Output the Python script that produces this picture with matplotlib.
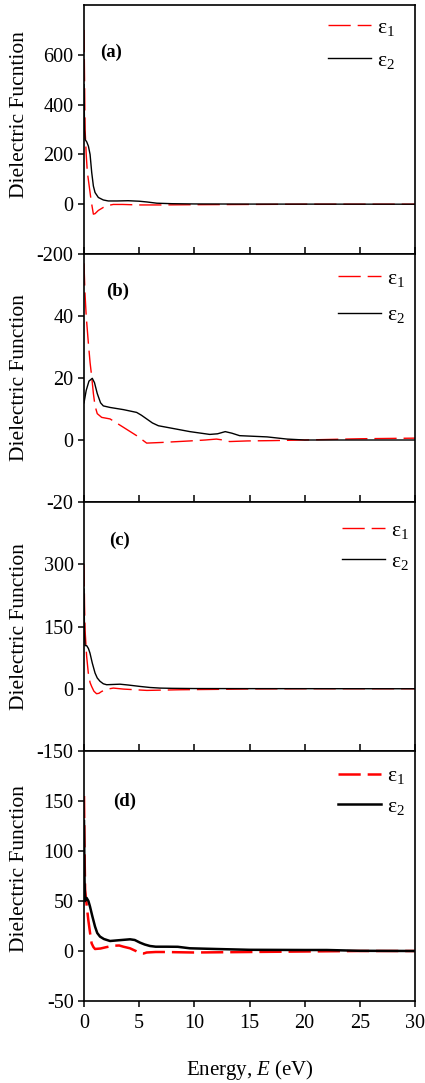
import matplotlib
matplotlib.use("Agg")
import matplotlib.pyplot as plt

plt.rcParams['font.family'] = ['Liberation Serif', 'DejaVu Serif']
plt.rcParams['mathtext.fontset'] = 'custom'
plt.rcParams['mathtext.rm'] = 'Liberation Serif'
plt.rcParams['mathtext.it'] = 'Liberation Serif:italic'
plt.rcParams['mathtext.bf'] = 'Liberation Serif:bold'
plt.rcParams['axes.unicode_minus'] = False

# ---------------- data ----------------
# panel (a)
Ea_e1 = [0, 0.05, 0.1, 0.2, 0.3, 0.45, 0.6, 0.7, 0.85, 1.0, 1.3, 1.75, 2.2, 2.65, 3.5, 5, 7, 10, 15, 20, 30]
a_e1 = [700, 500, 300, 200, 130, 80, 30, 0, -40, -38, -25, -13, -5, -1, -1, -3, -3, -2, -1, 0, 0]
Ea_e2 = [0, 0.05, 0.1, 0.25, 0.4, 0.55, 0.7, 0.85, 1.0, 1.3, 1.75, 2.2, 3, 4, 5, 5.7, 6.6, 8, 10, 15, 30]
a_e2 = [480, 300, 260, 250, 233, 200, 127, 73, 47, 27, 17, 13, 13, 14, 12, 9, 4, 2, 1, 0.5, 0]

# panel (b)
Eb_e1 = [0, 0.08, 0.2, 0.39, 0.55, 0.69, 0.85, 1.0, 1.2, 1.6, 2.36, 3.57, 4.77, 5.68, 7, 9.6, 11,
         12, 12.6, 13.2, 14.8, 17, 20, 25, 30]
b_e1 = [57, 48, 40, 31.5, 25, 20.7, 15, 11, 8.5, 7.3, 6.8, 4.1, 1.4, -1.0, -0.8, -0.3, 0,
        0.3, 0, -0.5, -0.3, -0.2, 0, 0.4, 0.6]
Eb_e2 = [0, 0.2, 0.45, 0.75, 0.95, 1.2, 1.5, 1.75, 2.36, 3.57, 4.77, 5.2, 5.68, 6.2, 6.74, 7.8, 9.6,
         11.4, 12.1, 12.8, 13.4, 14.1, 16.6, 18.4, 20, 25, 30]
b_e2 = [12, 16, 19, 19.9, 18.5, 15, 12, 11, 10.5, 9.8, 8.9, 8, 6.8, 5.5, 4.6, 3.9, 2.7,
        1.8, 2.0, 2.7, 2.2, 1.4, 1.0, 0.3, 0, 0, 0]

# panel (c)
Ec_e1 = [0, 0.05, 0.1, 0.24, 0.39, 0.55, 0.69, 0.9, 1.14, 1.35, 1.6, 2.1, 2.66, 3.57, 5.7, 8.7, 12, 15, 20, 30]
c_e1 = [300, 200, 140, 78, 38, 15, 5.6, -6, -12, -11, -6.5, -1, 1.6, -0.8, -4, -2.4, -1.5, -0.5, 0, 0]
Ec_e2 = [0, 0.05, 0.1, 0.24, 0.4, 0.54, 0.75, 1.0, 1.2, 1.45, 1.75, 2.05, 3.26, 4, 5.07, 6, 6.9, 8, 10, 15, 30]
c_e2 = [240, 130, 104, 104, 97, 86, 62, 38, 26, 18, 12, 9.7, 11, 9, 5.6, 3, 1.6, 1, 0.5, 0.3, 0]

# panel (d)
Ed_e1 = [0, 0.05, 0.1, 0.25, 0.39, 0.55, 0.69, 0.85, 1.0, 1.5, 2.0, 2.66, 3.2, 3.57, 4.17, 4.7, 5.07,
         5.4, 5.68, 6.5, 7.2, 10, 15, 20, 25, 30]
d_e1 = [155, 100, 61, 45, 31, 18, 7.7, 4, 2, 2.5, 3.8, 5.3, 5.5, 4.3, 2.7, 0, -2.3,
        -2.5, -1.5, -1, -1, -1.5, -1, -0.5, 0, 0]
Ed_e2 = [0, 0.05, 0.1, 0.24, 0.4, 0.54, 0.75, 1.0, 1.2, 1.45, 1.8, 2.36, 3.2, 4.17, 4.6, 5.07, 5.5,
         5.98, 6.5, 7.5, 8.5, 9.6, 12, 15, 20, 22, 25, 30]
d_e2 = [130, 70, 50, 53, 50, 44.6, 35, 24.4, 18, 14.4, 12, 10, 10.8, 11.7, 11, 8.4, 6.5,
        5, 4.3, 4.3, 4.2, 2.7, 2, 1.2, 1, 1, 0.2, 0]

panel_labels = ['(a)', '(b)', '(c)', '(d)']
ylabels = ['Dielectric Fucntion', 'Dielectric Function', 'Dielectric Function', 'Dielectric Function']
yticks = [[-200, 0, 200, 400, 600], [-20, 0, 20, 40], [-150, 0, 150, 300], [-50, 0, 50, 100, 150]]
ylims = [(-200, 800), (-20, 60), (-150, 450), (-50, 200)]
xticks = [0, 5, 10, 15, 20, 25, 30]
legend_labels = ['ε$_1$', 'ε$_2$']

series = [(Ea_e1, a_e1, Ea_e2, a_e2), (Eb_e1, b_e1, Eb_e2, b_e2),
          (Ec_e1, c_e1, Ec_e2, c_e2), (Ed_e1, d_e1, Ed_e2, d_e2)]

# ---------------- layout ----------------
W, H = 425, 1083
fig = plt.figure(figsize=(W / 100, H / 100), dpi=100)
edges = [5, 254, 502, 751, 1001]
left_px, right_px = 84, 415
label_pos = [(0.05, 0.81), (0.066, 0.85), (0.076, 0.847), (0.088, 0.80)]
leg_pos = [(0.737, 0.95), (0.767, 0.94), (0.779, 0.925), (0.767, 0.94)]
leg_space = [0.6, 0.75, 0.5, 0.5]
ylab_y = [0.558, 0.5, 0.5, 0.528]
lws = [1.0, 1.0, 1.0, 1.8]

for i in range(4):
    top, bot = edges[i], edges[i + 1]
    ax = fig.add_axes([left_px / W, 1 - bot / H, (right_px - left_px) / W, (bot - top) / H])
    x1, y1, x2, y2 = series[i]
    lw = lws[i]
    l1, = ax.plot(x1, y1, color='#ff0000', lw=lw, dashes=(16 / lw, 5 / lw))
    l2, = ax.plot(x2, y2, color='black', lw=lw)
    ax.set_xlim(0, 30)
    ax.set_ylim(*ylims[i])
    ax.set_xticks(xticks)
    ax.set_yticks(yticks[i])
    for sp in ax.spines.values():
        sp.set_linewidth(1.2)
    ax.tick_params(axis='y', direction='out', length=4.5, width=1.1, labelsize=14.5, pad=3)
    if i < 3:
        ax.tick_params(axis='x', direction='in', length=5, width=1.1, labelbottom=False)
    else:
        ax.tick_params(axis='x', direction='out', length=4.5, width=1.1, labelsize=14.5, pad=5)
        ax.set_xlabel('Energy, $\\mathit{E}$ (eV)', fontsize=15, labelpad=18)
    ax.set_ylabel(ylabels[i], fontsize=15.5)
    ax.yaxis.set_label_coords(-0.165, ylab_y[i])
    ax.text(label_pos[i][0], label_pos[i][1], panel_labels[i], transform=ax.transAxes,
            fontsize=13.5, fontweight='bold', va='center', ha='left')
    ax.legend([l1, l2], legend_labels, loc='upper left', bbox_to_anchor=leg_pos[i],
              frameon=False, fontsize=15.5, handlelength=2.0, handletextpad=0.3,
              labelspacing=leg_space[i], borderpad=0, borderaxespad=0)

fig.savefig('out.png', dpi=100)
